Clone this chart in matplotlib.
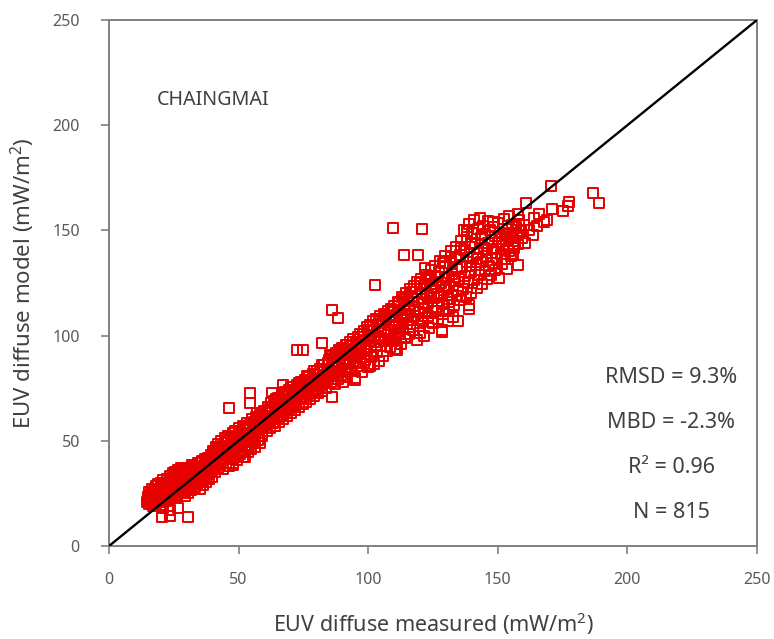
import numpy as np
import matplotlib
matplotlib.use("Agg")
import matplotlib.pyplot as plt

# EUV diffuse, measured vs model, Chaingmai station
# values (mW/m2)

low_band = [
    (14.8, 21.0), (15.0, 23.5), (15.3, 19.8), (15.5, 25.6), (15.9, 22.2), (16.0, 20.4), (16.3, 24.8), (16.6, 27.0),
    (16.8, 21.5), (17.0, 19.2), (17.2, 23.9), (17.5, 26.1), (17.7, 22.7), (18.0, 28.4), (18.1, 20.6), (18.4, 25.0),
    (18.7, 23.1), (18.9, 29.3), (19.2, 21.9), (19.4, 26.8), (19.6, 24.2), (19.9, 30.1), (20.1, 22.8), (20.3, 27.5),
    (20.6, 19.6), (20.8, 25.4), (21.0, 31.2), (21.3, 23.6), (21.5, 28.9), (21.8, 26.0), (22.0, 21.4), (22.2, 32.0),
    (22.5, 24.7), (22.7, 29.6), (23.0, 27.1), (23.2, 22.3), (23.5, 33.4), (23.7, 25.8), (24.0, 30.7), (24.2, 28.2),
    (24.5, 23.9), (24.7, 34.6), (25.0, 26.9), (25.2, 31.8), (25.4, 29.0),
    (21.2, 29.8), (22.8, 26.3), (24.4, 32.2), (26.0, 29.1), (27.6, 34.5), (29.3, 31.0), (30.8, 35.3), (32.4, 30.7),
    (34.1, 36.8), (20.0, 25.3), (18.3, 24.0), (16.7, 22.9), (23.9, 27.4), (25.8, 33.8), (28.9, 33.1), (31.5, 34.0),
    (33.7, 33.2), (35.5, 37.9), (37.3, 37.6), (26.9, 31.4),
    (20.4, 13.8), (23.5, 17.1), (23.5, 14.5), (30.5, 13.8), (26.6, 18.0), (20.8, 18.0),
]

mid_low_band = [
    (25.6, 35.3), (25.9, 27.7), (26.1, 24.4), (26.3, 32.9), (26.6, 30.0), (26.8, 36.2), (27.1, 25.5), (27.3, 33.7),
    (27.5, 28.6), (27.8, 37.0), (28.0, 31.3), (28.2, 26.2), (28.5, 34.8), (28.7, 29.4), (29.0, 36.9), (29.2, 23.8),
    (29.4, 32.4), (29.7, 27.3), (29.9, 35.6), (30.2, 30.2), (30.4, 37.3), (30.6, 25.1), (30.9, 33.5), (31.1, 28.7),
    (31.4, 36.4), (31.6, 31.5), (31.8, 26.6), (32.1, 35.0), (32.3, 29.8), (32.6, 37.5), (32.8, 33.0), (33.0, 27.9),
    (33.3, 36.1), (33.5, 31.2), (33.8, 38.2), (34.0, 29.3), (34.2, 34.4), (34.5, 39.6), (34.7, 32.1), (35.0, 27.0),
    (35.2, 36.7), (35.4, 30.9), (35.7, 40.3), (35.9, 34.0), (36.2, 29.1), (36.4, 38.1), (36.6, 32.8), (36.9, 41.2),
    (37.1, 35.5), (37.4, 30.4), (37.6, 39.3), (37.8, 33.9), (38.1, 42.0), (38.3, 36.6), (38.6, 31.7), (38.8, 40.1),
    (39.0, 35.2), (39.3, 43.4), (39.5, 37.8), (39.8, 33.0),
    (40.1, 45.0), (40.3, 38.2), (40.6, 42.6), (40.9, 35.4), (41.1, 47.1), (41.4, 40.0), (41.7, 44.3), (42.0, 37.1),
    (42.2, 48.5), (42.5, 41.8), (42.8, 45.9), (43.0, 38.7), (43.3, 50.0), (43.6, 43.5), (43.9, 36.6), (44.1, 47.6),
    (44.4, 41.2), (44.7, 51.3), (45.0, 45.2), (45.2, 39.5), (45.5, 49.0), (45.8, 43.0), (46.1, 52.4), (46.3, 37.9),
    (46.6, 46.8), (46.9, 41.5), (47.2, 50.7), (47.4, 44.6), (47.7, 53.6), (48.0, 39.4), (48.3, 48.2), (48.5, 43.1),
    (48.8, 54.9), (49.1, 46.5), (49.4, 41.0), (49.6, 51.5), (49.9, 45.4), (50.2, 56.0), (50.5, 48.9), (50.7, 43.8),
    (51.0, 53.3), (51.3, 47.0), (51.6, 57.2), (51.8, 42.1), (52.1, 50.6), (52.4, 45.7), (52.7, 55.1), (52.9, 49.3),
    (53.2, 58.4), (53.5, 44.5), (53.8, 52.8), (54.0, 47.9), (54.3, 57.6), (54.6, 51.0), (54.9, 46.2), (55.1, 60.3),
    (55.4, 54.2), (55.7, 49.6), (56.0, 58.9), (56.2, 52.3), (56.5, 47.0), (56.8, 61.1), (57.1, 55.5), (57.3, 50.4),
    (57.6, 59.7), (57.9, 53.8), (58.2, 62.4), (58.4, 48.8), (58.7, 57.0), (59.0, 52.1), (59.3, 61.6), (59.5, 55.9),
    (46.3, 65.6), (54.4, 68.0), (52.5, 42.3), (48.0, 38.5),
]

mid_band = [
    (60.0, 64.2), (60.3, 57.4), (60.6, 61.0), (60.9, 54.7), (61.2, 66.3), (61.5, 59.8), (61.8, 63.5), (62.1, 56.2),
    (62.4, 67.9), (62.7, 61.7), (63.0, 65.1), (63.3, 58.6), (63.6, 69.0), (63.9, 63.2), (64.2, 57.0), (64.5, 67.0),
    (64.8, 60.9), (65.1, 70.4), (65.4, 64.8), (65.7, 59.1), (66.0, 68.6), (66.3, 62.5), (66.6, 71.5), (66.9, 66.2),
    (67.2, 60.4), (67.5, 69.8), (67.8, 64.0), (68.1, 73.0), (68.4, 67.6), (68.7, 61.8), (69.0, 71.2), (69.3, 65.5),
    (69.6, 74.3), (69.9, 68.9), (70.2, 63.1), (70.5, 72.6), (70.8, 67.0), (71.1, 75.4), (71.4, 70.2), (71.7, 64.6),
    (72.0, 73.9), (72.3, 68.4), (72.6, 76.7), (72.9, 71.6), (73.2, 65.9), (73.5, 75.0), (73.8, 69.7), (74.1, 78.0),
    (74.4, 72.8), (74.7, 67.3), (75.0, 76.2), (75.3, 71.0), (75.6, 79.1), (75.9, 74.1), (76.2, 68.5), (76.5, 77.6),
    (76.8, 72.3), (77.1, 80.4), (77.4, 75.5), (77.7, 69.9), (78.0, 78.8), (78.3, 73.6), (78.6, 81.6), (78.9, 76.9),
    (79.2, 71.1), (79.5, 80.0), (79.8, 74.8), (80.1, 83.0), (80.4, 78.1), (80.7, 72.5), (81.0, 81.4), (81.3, 76.2),
    (81.6, 84.3), (81.9, 79.5), (82.2, 73.8), (82.5, 82.7), (82.8, 77.6), (83.1, 85.8), (83.4, 80.9), (83.7, 75.0),
    (84.0, 84.0), (84.3, 79.0), (84.6, 87.1),
    (54.4, 72.7), (63.0, 72.7), (67.0, 76.5), (72.5, 93.0), (74.8, 93.3), (86.0, 71.0),
]

high_band = [
    (85.0, 88.4), (85.3, 82.1), (85.6, 78.0), (85.9, 86.0), (86.2, 90.2), (86.5, 80.6), (86.8, 84.7), (87.1, 76.9),
    (87.4, 91.5), (87.7, 87.3), (88.0, 82.9), (88.3, 79.2), (88.6, 93.0), (88.9, 85.8), (89.2, 89.6), (89.5, 81.4),
    (89.8, 94.3), (90.1, 87.9), (90.4, 77.8), (90.7, 91.4), (91.0, 84.2), (91.3, 95.6), (91.6, 89.0), (91.9, 80.3),
    (92.2, 93.2), (92.5, 86.5), (92.8, 97.0), (93.1, 90.6), (93.4, 83.0), (93.7, 95.1), (94.0, 88.1), (94.3, 98.3),
    (94.6, 92.2), (94.9, 79.9), (95.2, 96.6), (95.5, 89.7), (95.8, 85.4), (96.1, 99.5), (96.4, 93.5), (96.7, 87.0),
    (97.0, 101.0), (97.3, 95.0), (97.6, 82.6), (97.9, 97.9), (98.2, 91.1), (98.5, 102.4), (98.8, 88.3), (99.1, 96.2),
    (99.4, 104.0), (99.7, 92.7), (100.0, 84.9), (100.3, 99.6), (100.6, 105.2), (100.9, 94.4), (101.2, 89.9), (101.5, 102.0),
    (101.8, 106.8), (102.1, 96.9), (102.4, 86.6), (102.7, 100.5), (103.0, 108.0), (103.3, 92.3), (103.6, 104.4), (103.9, 98.2),
    (104.2, 88.0), (104.5, 109.3), (104.8, 101.6), (105.1, 95.0), (105.4, 106.1), (105.7, 90.5), (106.0, 110.4), (106.3, 103.3),
    (106.6, 97.4), (106.9, 107.7), (107.2, 92.8), (107.5, 111.6), (107.8, 100.4), (108.1, 105.0), (108.4, 94.6), (108.7, 112.5),
    (109.0, 102.9), (109.3, 108.9), (109.6, 97.5),
    (86.0, 112.0), (88.4, 108.4), (82.0, 96.5), (95.0, 79.0), (100.7, 85.6), (102.6, 124.0),
]

upper_band = [
    (110.0, 114.0), (110.3, 104.8), (110.6, 98.7), (110.9, 109.8), (111.2, 93.4), (111.5, 116.0), (111.8, 106.2), (112.1, 101.0),
    (112.4, 112.1), (112.7, 96.0), (113.0, 118.2), (113.3, 108.4), (113.6, 103.1), (113.9, 114.4), (114.2, 99.0), (114.5, 120.3),
    (114.8, 110.5), (115.1, 105.4), (115.4, 116.6), (115.7, 100.6), (116.0, 122.0), (116.3, 112.7), (116.6, 107.5), (116.9, 118.3),
    (117.2, 102.8), (117.5, 123.8), (117.8, 114.0), (118.1, 109.5), (118.4, 120.5), (118.7, 97.8), (119.0, 125.3), (119.3, 115.8),
    (119.6, 111.0), (119.9, 104.6), (120.2, 122.0), (120.5, 127.0), (120.8, 117.6), (121.1, 107.0), (121.4, 113.3), (121.7, 99.9),
    (122.0, 124.4), (122.3, 129.0), (122.6, 119.1), (122.9, 109.2), (123.2, 115.7), (123.5, 103.5), (123.8, 126.2), (124.1, 131.0),
    (124.4, 121.0), (124.7, 111.6), (125.0, 105.9), (125.3, 117.8), (125.6, 128.4), (125.9, 133.3), (126.2, 123.0), (126.5, 113.4),
    (126.8, 108.0), (127.1, 119.6), (127.4, 130.2), (127.7, 135.6), (128.0, 125.1), (128.3, 101.9), (128.6, 115.5), (128.9, 110.4),
    (129.2, 121.7), (129.5, 132.4), (129.8, 137.7), (130.1, 127.2), (130.4, 117.3), (130.7, 106.8), (131.0, 112.5), (131.3, 123.8),
    (131.6, 134.6), (131.9, 140.0), (132.2, 129.4), (132.5, 119.4), (132.8, 108.9), (133.1, 114.7), (133.4, 125.9), (133.7, 136.5),
    (134.0, 142.2), (134.3, 131.5), (134.6, 121.3),
    (109.6, 151.1), (120.7, 150.6), (113.8, 138.3), (119.2, 138.3), (121.9, 132.1), (139.0, 114.5), (139.0, 112.6), (134.6, 107.0),
    (128.5, 102.7), (124.6, 106.5), (120.0, 101.2), (114.2, 99.3), (110.3, 93.6),
]

top_band = [
    (135.0, 127.0), (135.3, 138.4), (135.6, 116.8), (135.9, 145.0), (136.2, 132.7), (136.5, 122.1), (136.8, 150.2), (137.1, 140.6),
    (137.4, 128.3), (137.7, 118.5), (138.0, 147.1), (138.3, 135.2), (138.6, 124.9), (138.9, 152.9), (139.2, 142.3), (139.5, 130.1),
    (139.8, 120.3), (140.1, 148.6), (140.4, 137.0), (140.7, 126.4), (141.0, 155.0), (141.3, 144.0), (141.6, 133.5), (141.9, 122.8),
    (142.2, 150.5), (142.5, 139.1), (142.8, 128.7), (143.1, 156.0), (143.4, 146.2), (143.7, 135.0), (144.0, 124.5), (144.3, 152.1),
    (144.6, 141.4), (144.9, 130.8), (145.2, 148.3), (145.5, 137.6), (145.8, 126.9), (146.1, 154.7), (146.4, 143.8), (146.7, 133.2),
    (147.0, 150.0), (147.3, 128.8), (147.6, 145.5), (147.9, 139.5), (148.2, 134.6), (148.5, 151.7), (148.8, 131.0), (149.1, 147.2),
    (149.4, 141.1), (149.7, 137.0), (150.0, 153.5), (150.3, 127.5), (150.6, 144.3), (150.9, 149.0), (151.2, 139.0), (151.5, 134.0),
    (151.8, 146.0), (152.1, 142.5), (152.4, 155.5), (152.7, 136.5), (153.0, 148.4), (153.3, 144.8), (153.6, 131.7), (153.9, 150.6),
    (154.2, 140.2), (154.5, 157.0), (154.8, 146.7), (155.1, 138.0), (155.4, 152.8), (155.7, 143.2), (156.0, 149.0), (156.3, 141.8),
    (156.6, 145.0), (157.0, 151.6), (157.4, 147.8), (157.8, 143.7), (158.3, 155.0), (158.8, 149.5), (159.4, 146.3), (160.0, 152.4),
    (157.8, 157.8), (164.0, 156.0), (169.0, 155.0), (163.6, 148.0), (156.0, 139.0), (157.8, 133.5), (161.0, 163.0), (171.0, 160.0),
    (177.5, 163.5), (177.0, 161.6), (175.0, 159.0), (186.7, 167.8), (189.0, 163.0), (170.5, 171.0), (166.0, 158.0), (162.0, 150.0),
    (160.5, 144.0), (165.0, 152.3), (168.0, 154.0),
]

# more points read from the denser parts of the cloud
extra_fill = [
    (15.6, 24.4), (16.2, 21.9), (17.4, 20.5), (18.6, 27.1), (19.3, 24.9), (20.7, 21.1), (21.9, 28.0), (22.4, 23.0),
    (23.3, 30.2), (24.8, 25.3), (25.5, 23.1), (26.4, 34.0), (27.2, 29.7), (28.4, 25.6), (29.6, 34.1), (30.3, 28.0),
    (31.2, 32.2), (32.0, 38.6), (33.2, 30.0), (34.4, 35.7), (35.3, 32.6), (36.0, 39.5), (36.8, 36.0), (37.9, 41.3),
    (38.5, 34.4), (39.4, 39.0), (40.5, 44.0), (41.3, 37.9), (42.4, 46.7), (43.4, 40.3), (44.5, 44.8), (45.4, 50.4),
    (46.2, 42.2), (47.0, 48.1), (47.9, 45.7), (48.9, 51.2), (49.8, 43.0), (50.9, 49.8), (51.9, 55.4), (52.8, 46.9),
    (53.9, 55.0), (55.0, 51.8), (55.9, 56.1), (57.0, 63.0), (58.0, 56.4), (59.1, 58.8), (60.2, 61.9), (61.0, 58.3),
    (62.3, 64.9), (63.5, 60.2), (64.4, 70.0), (65.5, 62.0), (66.4, 66.9), (67.4, 72.5), (68.3, 64.6), (69.4, 69.6),
    (70.4, 75.8), (71.3, 66.8), (72.2, 71.9), (73.4, 77.7), (74.3, 70.6), (75.4, 74.4), (76.3, 80.7), (77.3, 72.9),
    (78.2, 77.0), (79.0, 83.2), (80.0, 76.3), (81.1, 79.0), (82.0, 86.1), (83.0, 78.6), (84.2, 82.2), (85.1, 91.0),
    (86.0, 83.4), (87.0, 89.2), (88.1, 85.3), (89.0, 92.2), (90.0, 83.8), (91.2, 88.2), (92.0, 95.4), (93.0, 86.9),
    (94.1, 96.8), (95.0, 91.0), (96.0, 95.9), (97.1, 89.5), (98.0, 100.6), (99.0, 93.9), (100.1, 102.7), (101.0, 97.3),
    (102.0, 104.0), (103.1, 95.6), (104.0, 107.1), (105.0, 99.0), (106.1, 101.5), (107.0, 109.5), (108.0, 97.9), (109.1, 111.0),
    (110.1, 107.4), (111.0, 101.8), (112.0, 115.3), (113.1, 106.0), (114.0, 117.6), (115.0, 109.1), (116.1, 103.9), (117.0, 120.9),
    (118.0, 112.2), (119.1, 107.8), (120.0, 124.9), (121.0, 115.0), (122.1, 110.7), (123.0, 127.8), (124.0, 118.3), (125.1, 124.6),
    (126.1, 111.5), (127.0, 128.0), (128.1, 118.9), (129.0, 134.5), (130.0, 123.0), (131.1, 115.8), (132.0, 137.2), (133.0, 127.7),
    (134.1, 119.0), (136.0, 141.5), (137.0, 125.5), (138.1, 149.8), (139.1, 133.0), (140.0, 143.5), (142.0, 136.4), (144.1, 148.0),
    (146.0, 140.9), (148.0, 154.1),
]

stats_lines = ["RMSD = 9.3%", "MBD = -2.3%", "R\u00b2 = 0.96", "N = 815"]
site_name = "CHAINGMAI"
ticks = [0, 50, 100, 150, 200, 250]

pts = np.array(low_band + mid_low_band + mid_band + high_band + upper_band + top_band + extra_fill)
measured = pts[:, 0]
model = pts[:, 1]

plt.rcParams['font.family'] = ['Noto Sans', 'DejaVu Sans']
plt.rcParams['mathtext.default'] = 'regular'

grey = '#808080'
fig = plt.figure(figsize=(7.74, 6.39), dpi=100)
ax = fig.add_axes([0.1408, 0.1455, 0.8372, 0.8232])

ax.scatter(measured, model, marker='s', s=52, facecolors='none',
           edgecolors='#e60000', linewidths=1.4, zorder=2)
ax.plot([0, 250], [0, 250], color='black', lw=1.7, zorder=3)

ax.set_xlim(0, 250)
ax.set_ylim(0, 250)
ax.set_xticks(ticks)
ax.set_yticks(ticks)
ax.tick_params(direction='out', length=6, width=1.2, color=grey,
               labelsize=11.5, labelcolor='#595959')
ax.tick_params(axis='x', pad=13)
ax.tick_params(axis='y', pad=15)
for sp in ax.spines.values():
    sp.set_color(grey)
    sp.set_linewidth(1.4)

ax.set_xlabel('EUV diffuse measured (mW/m$^2$)', fontsize=15.5, color='#404040', labelpad=16)
ax.set_ylabel('EUV diffuse model (mW/m$^2$)', fontsize=16, color='#404040', labelpad=11)

ax.text(18.5, 212, site_name, fontsize=14.2, color='#404040', va='center', ha='left')

stat_y = [80.3, 58.5, 37.5, 15.7]
for txt, yy in zip(stats_lines, stat_y):
    ax.text(217, yy, txt, fontsize=15.5, color='#404040', ha='center', va='center')

fig.savefig('out.png', dpi=100)
